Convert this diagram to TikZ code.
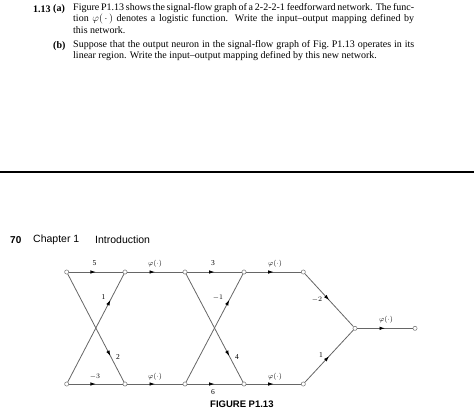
\documentclass[tikz,border=0pt]{standalone}
\usepackage{amsmath, amssymb}
\usepackage{fontspec}
\setmainfont{Liberation Serif}
\setsansfont{Liberation Sans}
\usepackage{tikz}
\usepackage{xcolor}
\usetikzlibrary{arrows.meta, decorations.markings}

\tikzset{
  sig/.style={circle, draw=black!55, fill=white, line width=0.5, inner sep=0pt, minimum size=4.2},
  branch/.style={draw=black!60, line width=0.8, postaction={decorate},
    decoration={markings, mark=at position #1 with {\arrow[black]{Latex[length=5.5,width=3.6]}}}},
  branch/.default=0.5,
  wlabel/.style={inner sep=0.75pt, font=\fontsize{7.5}{8}\selectfont}
}

\begin{document}
\begin{tikzpicture}[x=1pt,y=1pt,yscale=-1,xscale=1]
    \useasboundingbox (0,0) rectangle (474,410);

    % Text Node
    \node (num) at (33,9) [anchor=west][inner sep=0pt][font=\fontsize{10}{12}\selectfont\bfseries] {1.13};
    \node (pa) at (53,9) [anchor=west][inner sep=0pt][font=\fontsize{10}{12}\selectfont\bfseries] {(a)};
    \node (ta) at (73,3) [anchor=north west][inner sep=0pt][text width=341][align=justify][font=\fontsize{10}{11.6}\selectfont] {Figure P1.13 shows the signal-flow graph of a 2-2-2-1 feedforward network. The func-\linebreak tion $\varphi(\,\cdot\,)$ denotes a logistic function. Write the input--output mapping defined by\linebreak this network.};
    % Text Node
    \node (pb) at (53,46) [anchor=west][inner sep=0pt][font=\fontsize{10}{12}\selectfont\bfseries] {(b)};
    \node (tb) at (73,40) [anchor=north west][inner sep=0pt][text width=341][align=justify][font=\fontsize{10}{11.6}\selectfont] {Suppose that the output neuron in the signal-flow graph of Fig.~P1.13 operates in its\linebreak linear region. Write the input--output mapping defined by this new network.};

    %Straight Lines
    \draw [line width=2] (0,171.7) -- (474,171.7);

    % Text Node
    \node (pg) at (10,240) [anchor=west][inner sep=0pt][font=\sffamily\fontsize{10}{11}\selectfont\bfseries] {70};
    \node (ch) at (33,240) [anchor=west][inner sep=0pt][font=\sffamily\fontsize{10.5}{11}\selectfont] {Chapter 1};
    \node (intro) at (95,240) [anchor=west][inner sep=0pt][font=\sffamily\fontsize{10.5}{11}\selectfont] {Introduction};

    % signal-flow graph nodes
    \node [sig] (x1) at (66.7,272) {};
    \node [sig] (x2) at (66.7,384) {};
    \node [sig] (v1) at (125,272) {};
    \node [sig] (v2) at (125,384) {};
    \node [sig] (y1) at (185,272) {};
    \node [sig] (y2) at (185,384) {};
    \node [sig] (v3) at (244,272) {};
    \node [sig] (v4) at (244,384) {};
    \node [sig] (y3) at (303.3,272) {};
    \node [sig] (y4) at (303.3,384) {};
    \node [sig] (v5) at (355,328.3) {};
    \node [sig] (yo) at (415,328.3) {};

    % branches
    \draw [branch] (x1) -- (v1);
    \draw [branch] (x2) -- (v2);
    \draw [branch=0.76] (x1) -- (v2);
    \draw [branch=0.76] (x2) -- (v1);
    \draw [branch] (v1) -- (y1);
    \draw [branch] (v2) -- (y2);
    \draw [branch] (y1) -- (v3);
    \draw [branch] (y2) -- (v4);
    \draw [branch=0.76] (y1) -- (v4);
    \draw [branch=0.76] (y2) -- (v3);
    \draw [branch] (v3) -- (y3);
    \draw [branch] (v4) -- (y4);
    \draw [branch] (y3) -- (v5);
    \draw [branch] (y4) -- (v5);
    \draw [branch] (v5) -- (yo);

    % weights
    \node [wlabel] (w11) at (94.5,263.5) {5};
    \node [wlabel] (w22) at (95,376.5) {$-3$};
    \node [wlabel] (w21) at (103.5,297) {1};
    \node [wlabel] (w12) at (118,357) {2};
    \node [wlabel] (w33) at (213,263.5) {3};
    \node [wlabel] (w44) at (213,392) {6};
    \node [wlabel] (w43) at (218,297.5) {$-1$};
    \node [wlabel] (w34) at (237,357) {4};
    \node [wlabel] (w5a) at (317,300) {$-2$};
    \node [wlabel] (w5b) at (321,355) {1};
    % activations
    \node [wlabel] (phi1) at (155,263.5) {$\varphi(\cdot)$};
    \node [wlabel] (phi2) at (155,376.5) {$\varphi(\cdot)$};
    \node [wlabel] (phi3) at (275,263.5) {$\varphi(\cdot)$};
    \node [wlabel] (phi4) at (275,376.5) {$\varphi(\cdot)$};
    \node [wlabel] (phi5) at (386,320) {$\varphi(\cdot)$};

    % Text Node
    \node (cap) at (210,404.5) [anchor=west][inner sep=0pt][font=\sffamily\fontsize{9.5}{10}\selectfont\bfseries] {FIGURE P1.13};
\end{tikzpicture}
\end{document}
